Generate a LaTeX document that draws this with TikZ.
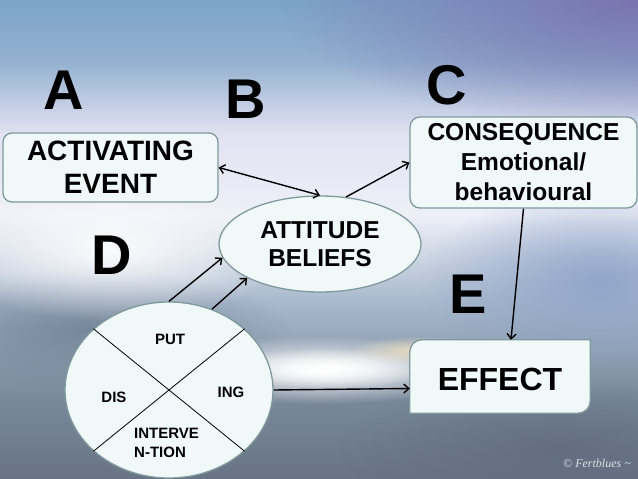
\documentclass[tikz,border=0pt]{standalone}
\usepackage{fontspec}
\setmainfont{Liberation Sans}
\newfontfamily\wmfont{Liberation Serif}
\usetikzlibrary{fadings,arrows.meta,shapes.geometric}
\definecolor{boxfill}{HTML}{F0F8F8}
\definecolor{boxdraw}{HTML}{7E9A9C}
\tikzfading[name=softglow, inner color=transparent!0, outer color=transparent!100]
\tikzset{
  box/.style={draw=boxdraw, fill=boxfill, line width=1.3pt, align=center, inner sep=0pt},
  arr/.style={line width=1.4pt, -{Straight Barb[length=5pt,width=9pt]}},
  bigletter/.style={font=\bfseries\fontsize{56}{56}\selectfont, inner sep=0pt},
  smalltext/.style={font=\bfseries\fontsize{15}{18.5}\selectfont, inner sep=0pt, align=left},
  glow/.style={path fading=softglow}
}
\begin{document}
\begin{tikzpicture}[x=1pt,y=-1pt]
\useasboundingbox (0,0) rectangle (638,479);
% background sky
\shade[top color={rgb,255:red,124;green,164;blue,200}, bottom color={rgb,255:red,147;green,176;blue,208}] (0,0) rectangle (638,60);
\shade[top color={rgb,255:red,147;green,176;blue,208}, bottom color={rgb,255:red,226;green,226;blue,242}] (0,60) rectangle (638,135);
\shade[top color={rgb,255:red,226;green,226;blue,242}, bottom color={rgb,255:red,238;green,240;blue,248}] (0,135) rectangle (638,215);
\shade[top color={rgb,255:red,238;green,240;blue,248}, bottom color={rgb,255:red,170;green,186;blue,206}] (0,215) rectangle (638,300);
\shade[top color={rgb,255:red,170;green,186;blue,206}, bottom color={rgb,255:red,120;green,136;blue,154}] (0,300) rectangle (638,400);
\shade[top color={rgb,255:red,120;green,136;blue,154}, bottom color={rgb,255:red,104;green,116;blue,134}] (0,400) rectangle (638,479);
\fill[color={rgb,255:red,122;green,116;blue,176}, glow] (640,0) ellipse (360 and 130);
\fill[color={rgb,255:red,140;green,162;blue,200}, glow, opacity=0.9] (600,280) ellipse (180 and 90);
\fill[color={rgb,255:red,110;green,126;blue,146}, glow, opacity=0.8] (90,330) ellipse (200 and 60);
\fill[white, glow] (320,370) ellipse (170 and 34);
\fill[white, glow] (330,368) ellipse (110 and 20);
\fill[color={rgb,255:red,252;green,232;blue,190}, glow, opacity=0.8] (420,350) ellipse (70 and 14);
\fill[white, glow, opacity=0.9] (110,250) ellipse (180 and 70);
\fill[color={rgb,255:red,96;green,108;blue,126}, glow, opacity=0.8] (560,450) ellipse (220 and 70);

% letters
\node[bigletter] (LA) at (64,90) {A};
\node[bigletter] (LB) at (246,99) {B};
\node[bigletter] (LC) at (447,85) {C};
\node[bigletter] (LD) at (112,255) {D};
\node[bigletter] (LE) at (468,294) {E};

% boxes
\node[box, rounded corners=9pt, minimum width=215pt, minimum height=69pt,
      font=\bfseries\fontsize{28}{33}\selectfont] (A) at (110.5,167.5) {ACTIVATING\\EVENT};
\node[box, rounded corners=10pt, minimum width=227pt, minimum height=91pt,
      font=\bfseries\fontsize{24.5}{30}\selectfont] (C) at (523.5,162.5) {CONSEQUENCE\\Emotional/\\behavioural};
\node[box, ellipse, minimum width=202pt, minimum height=96pt,
      font=\bfseries\fontsize{24.5}{28}\selectfont] (B) at (320,244) {ATTITUDE\\BELIEFS};
\node[minimum width=180pt, minimum height=73pt, inner sep=0pt] (E) at (500,376.5) {};
\filldraw[draw=boxdraw, fill=boxfill, line width=1.3pt]
  (E.south west) [rounded corners=12pt] -- (E.north west) [sharp corners] -- (E.north east)
  [rounded corners=12pt] -- (E.south east) [sharp corners] -- cycle;
\node[font=\bfseries\fontsize{32}{32}\selectfont, inner sep=0pt] (Etext) at (500,379.5) {EFFECT};

% D circle
\node[box, ellipse, minimum width=208pt, minimum height=176pt] (D) at (169,390) {};
\draw[line width=0.8pt] (D.141) -- (D.-39);
\draw[line width=0.8pt] (D.39) -- (D.-141);
\node[smalltext] (put) at (170,339) {PUT};
\node[smalltext] (dis) at (114,397) {DIS};
\node[smalltext] (ing) at (231,392) {ING};
\node[smalltext, anchor=north west] (int) at (134,428) {INTERVE\\N-TION};

% connectors
\draw[line width=1.4pt, {Straight Barb[length=5pt,width=9pt]}-{Straight Barb[length=5pt,width=9pt]}] (A.east) -- (B.north);
\draw[arr] (B.61) -- (C.west);
\draw[arr] (C.south) -- ([xshift=11pt]E.north);
\draw[arr] (D.east) -- ([yshift=-12pt]E.west);
\draw[arr] (D.90) -- (B.188);
\draw[arr] (D.62) -- (B.205);

% watermark
\node[font=\wmfont\itshape\fontsize{12}{12}\selectfont, text={rgb,255:red,220;green,224;blue,232}, inner sep=0pt] (wm) at (597,463) {© Fertblues \textasciitilde};
\end{tikzpicture}
\end{document}
